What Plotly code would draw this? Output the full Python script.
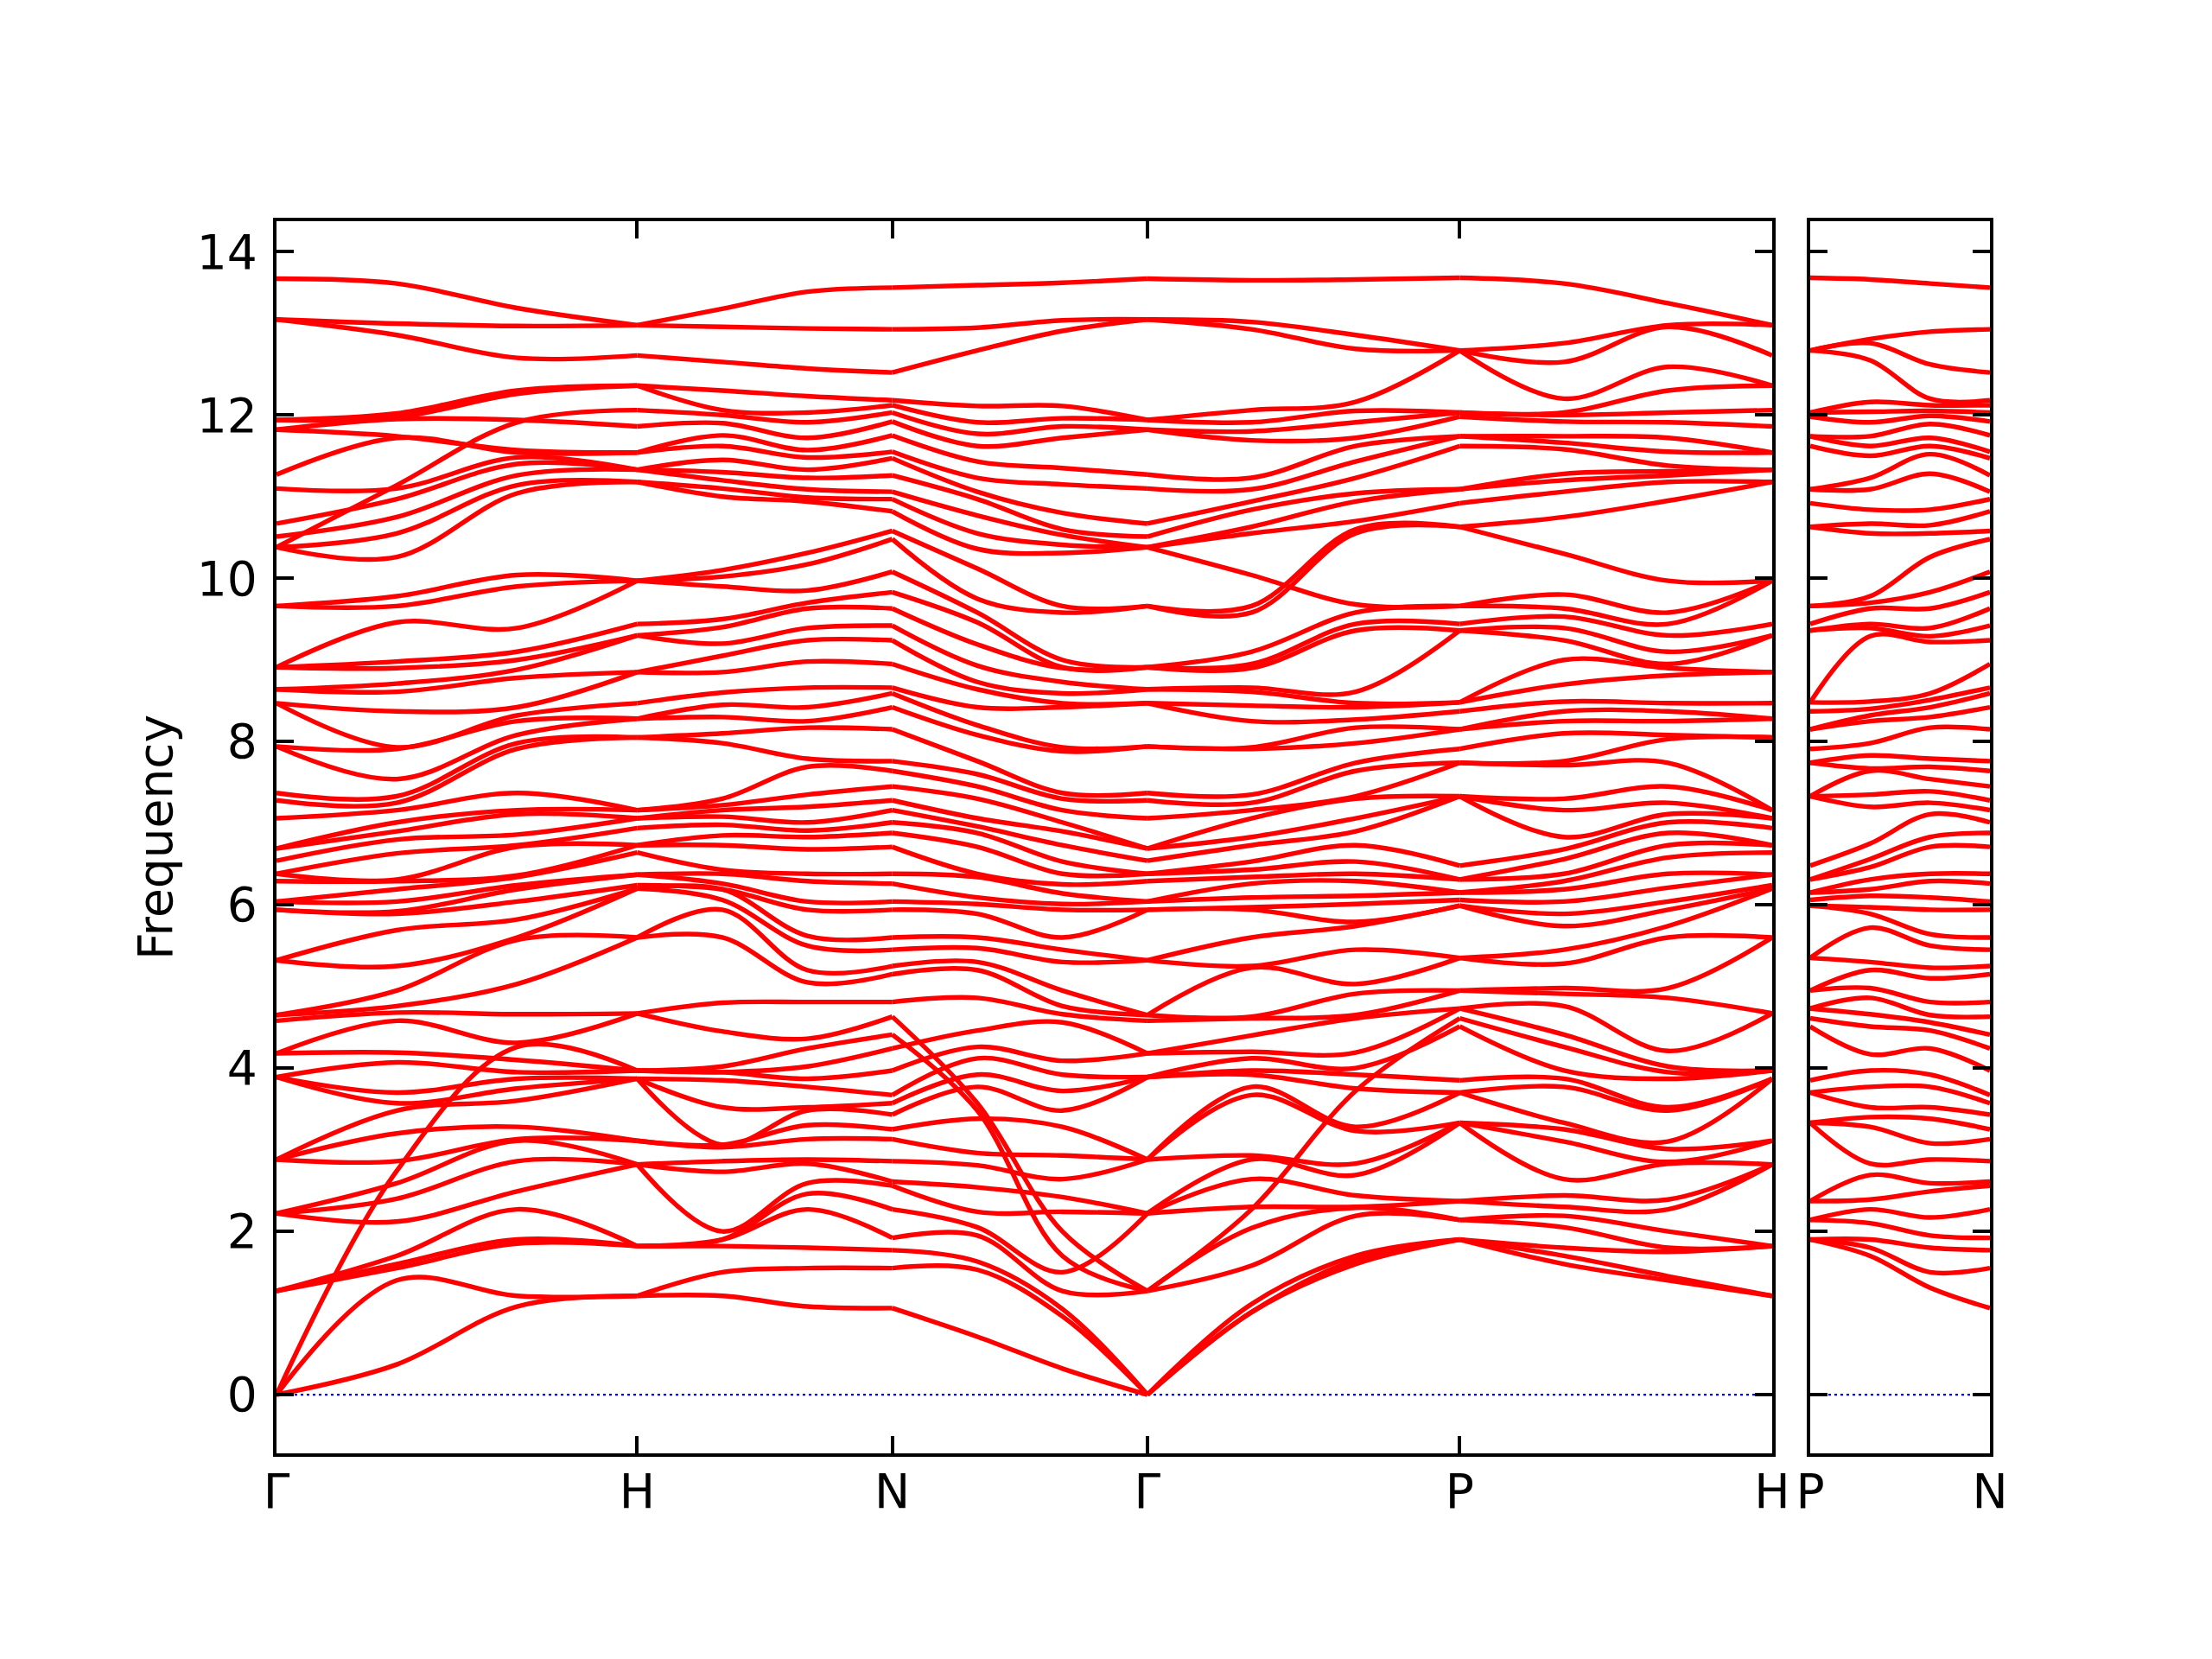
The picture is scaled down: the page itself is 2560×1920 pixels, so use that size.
import plotly.graph_objects as go

# ---------------- data (phonon frequencies) ----------------
# path segment lengths (reciprocal-space distance) for the main panel: G-H, H-N, N-G, G-P, P-H
seg_lengths = [1.0, 0.70711, 0.70711, 0.86603, 0.86603]
main_labels = ["Γ", "H", "N", "Γ", "P", "H"]
side_length = 0.5            # P-N
side_labels = ["P", "N"]
y_ticks = [0, 2, 4, 6, 8, 10, 12, 14]

# frequencies at high-symmetry points
G = [0.0, 0.0, 0.0, 1.27, 1.27, 1.27, 2.22, 2.22, 2.22, 2.88, 2.88, 2.88, 3.89, 3.89, 3.89,
     4.18, 4.18, 4.58, 4.65, 4.65, 5.32, 5.32, 5.94, 5.94, 6.04, 6.04, 6.29, 6.38, 6.38, 6.54,
     6.69, 6.69, 7.06, 7.28, 7.37, 7.94, 7.94, 8.47, 8.47, 8.64, 8.64, 8.91, 8.91, 8.91, 9.66,
     9.66, 10.38, 10.38, 10.38, 10.51, 10.67, 11.10, 11.27, 11.82, 11.82, 11.94, 11.94, 13.17, 13.17, 13.67]
H = [1.21, 1.21, 1.82, 1.82, 1.82, 2.82, 2.82, 2.82, 3.11, 3.11, 3.87, 3.87, 3.87, 3.97, 3.97,
     3.97, 4.67, 4.67, 5.60, 5.60, 6.20, 6.20, 6.24, 6.37, 6.37, 6.64, 6.73, 6.73, 6.94, 7.06,
     7.06, 7.16, 7.16, 8.05, 8.05, 8.28, 8.28, 8.47, 8.85, 8.85, 9.30, 9.30, 9.44, 9.97, 9.97,
     9.97, 11.18, 11.18, 11.33, 11.33, 11.33, 11.54, 11.54, 11.86, 12.06, 12.36, 12.36, 12.73, 13.10, 13.10]
N = [1.06, 1.55, 1.77, 1.92, 2.27, 2.56, 2.61, 2.86, 3.13, 3.25, 3.43, 3.57, 3.67, 3.97, 4.24,
     4.41, 4.63, 4.81, 5.15, 5.25, 5.45, 5.60, 5.94, 6.04, 6.26, 6.38, 6.71, 6.88, 7.01, 7.16,
     7.28, 7.45, 7.64, 7.76, 8.15, 8.42, 8.59, 8.66, 8.95, 9.24, 9.42, 9.63, 9.83, 10.08, 10.48,
     10.58, 10.82, 10.97, 11.06, 11.26, 11.47, 11.55, 11.75, 11.92, 12.03, 12.12, 12.18, 12.52, 13.05, 13.56]
P = [1.90, 1.90, 1.90, 2.14, 2.14, 2.37, 2.37, 3.33, 3.33, 3.33, 3.70, 3.70, 3.85, 4.51, 4.61,
     4.73, 4.73, 4.95, 4.95, 5.35, 5.35, 5.99, 5.99, 6.06, 6.15, 6.15, 6.31, 6.31, 6.48, 7.33,
     7.33, 7.33, 7.74, 7.74, 7.91, 8.15, 8.15, 8.37, 8.48, 8.48, 9.36, 9.36, 9.44, 9.66, 9.66,
     10.63, 10.63, 10.92, 11.09, 11.09, 11.62, 11.74, 11.74, 11.98, 12.03, 12.03, 12.79, 12.79, 12.79, 13.68]

# frequencies at 1/3 and 2/3 of each segment
GH_1 = [0.37, 1.40, 1.55, 1.60, 1.70, 2.12, 2.40, 2.59, 2.74, 2.86, 3.20, 3.48, 3.57, 3.70, 4.07,
        4.19, 4.58, 4.68, 4.76, 4.95, 5.25, 5.69, 5.89, 5.92, 6.04, 6.19, 6.29, 6.31, 6.63, 6.80,
        6.90, 7.01, 7.16, 7.25, 7.33, 7.54, 7.91, 7.93, 8.37, 8.61, 8.71, 8.90, 8.98, 9.46, 9.66,
        9.78, 10.26, 10.55, 10.75, 10.97, 11.10, 11.14, 11.72, 11.74, 11.95, 11.97, 12.02, 12.98, 13.12, 13.61]
GH_2 = [1.08, 1.21, 1.85, 1.90, 2.27, 2.49, 2.86, 3.11, 3.13, 3.28, 3.60, 3.75, 3.87, 3.95, 4.10,
        4.26, 4.31, 4.66, 5.03, 5.57, 5.60, 5.82, 6.04, 6.19, 6.24, 6.34, 6.36, 6.71, 6.73, 6.86,
        7.11, 7.16, 7.37, 7.91, 7.98, 8.08, 8.25, 8.32, 8.42, 8.78, 8.88, 9.00, 9.10, 9.39, 9.90,
        10.04, 11.04, 11.14, 11.26, 11.40, 11.48, 11.54, 11.57, 11.91, 11.94, 12.26, 12.30, 12.70, 13.09, 13.31]
HN_1 = [1.21, 1.50, 1.82, 1.90, 1.90, 2.00, 2.73, 2.86, 3.03, 3.06, 3.06, 3.52, 3.85, 3.95, 3.95,
        4.02, 4.45, 4.80, 5.60, 5.94, 6.06, 6.19, 6.19, 6.26, 6.38, 6.43, 6.73, 6.85, 6.98, 7.08,
        7.16, 7.22, 7.30, 7.98, 8.10, 8.30, 8.45, 8.60, 8.85, 9.05, 9.20, 9.40, 9.50, 9.90, 10.02,
        10.10, 11.00, 11.10, 11.20, 11.30, 11.45, 11.62, 11.75, 11.90, 12.00, 12.06, 12.30, 12.65, 13.08, 13.30]
HN_2 = [1.08, 1.55, 1.80, 2.27, 2.46, 2.59, 2.83, 2.88, 3.13, 3.30, 3.48, 3.52, 3.77, 3.87, 4.02,
        4.24, 4.36, 4.81, 5.05, 5.20, 5.50, 5.62, 5.94, 6.04, 6.29, 6.38, 6.68, 6.83, 6.91, 7.01,
        7.20, 7.35, 7.69, 7.79, 8.17, 8.25, 8.42, 8.66, 8.98, 9.24, 9.39, 9.63, 9.70, 9.85, 10.17,
        10.31, 10.94, 10.99, 11.09, 11.23, 11.33, 11.48, 11.57, 11.72, 11.91, 12.03, 12.23, 12.57, 13.06, 13.51]
NG_1 = [0.71, 1.53, 1.63, 1.95, 2.05, 2.24, 2.54, 2.81, 2.96, 3.38, 3.48, 3.57, 3.77, 3.92, 4.12,
        4.26, 4.46, 4.86, 5.20, 5.30, 5.47, 5.60, 5.89, 6.01, 6.09, 6.34, 6.38, 6.71, 6.88, 6.96,
        7.06, 7.30, 7.45, 7.60, 7.76, 8.08, 8.20, 8.42, 8.64, 8.73, 8.93, 9.19, 9.46, 9.58, 9.75,
        10.12, 10.36, 10.55, 10.77, 10.97, 11.06, 11.23, 11.43, 11.62, 11.77, 11.91, 12.11, 12.79, 13.07, 13.59]
NG_2 = [0.32, 0.96, 1.05, 1.27, 1.50, 1.70, 2.00, 2.24, 2.42, 2.64, 2.93, 3.28, 3.48, 3.72, 3.92,
        4.09, 4.56, 4.66, 4.76, 4.95, 5.30, 5.45, 5.60, 5.94, 6.01, 6.14, 6.25, 6.38, 6.53, 6.73,
        6.90, 7.01, 7.16, 7.30, 7.37, 7.88, 7.93, 8.42, 8.47, 8.59, 8.73, 8.90, 8.91, 9.00, 9.58,
        9.66, 10.31, 10.41, 10.53, 10.60, 10.80, 11.15, 11.35, 11.72, 11.86, 11.96, 12.11, 13.03, 13.16, 13.62]
GP_1 = [1.01, 1.01, 1.11, 1.58, 2.04, 2.27, 2.30, 2.64, 2.88, 2.93, 3.67, 3.77, 3.92, 3.97, 4.12,
        4.20, 4.40, 4.61, 4.63, 5.23, 5.25, 5.60, 5.94, 5.97, 6.09, 6.26, 6.34, 6.43, 6.53, 6.73,
        6.83, 7.06, 7.16, 7.25, 7.35, 7.91, 7.93, 8.25, 8.44, 8.61, 8.66, 8.90, 8.95, 9.10, 9.58,
        9.66, 10.38, 10.55, 10.63, 10.84, 10.94, 11.09, 11.23, 11.69, 11.80, 11.91, 12.06, 13.05, 13.14, 13.65]
GP_2 = [1.60, 1.65, 1.70, 2.19, 2.29, 2.30, 2.44, 2.69, 2.83, 3.23, 3.28, 3.72, 3.75, 3.92, 4.00,
        4.19, 4.61, 4.65, 4.91, 5.03, 5.45, 5.74, 5.79, 6.01, 6.11, 6.29, 6.38, 6.53, 6.73, 6.90,
        7.06, 7.30, 7.33, 7.64, 7.74, 7.98, 8.17, 8.27, 8.42, 8.47, 8.61, 9.36, 9.44, 9.58, 9.66,
        10.55, 10.60, 10.70, 10.94, 11.04, 11.23, 11.43, 11.62, 11.72, 11.91, 12.05, 12.16, 12.81, 12.98, 13.66]
PH_1 = [1.60, 1.70, 1.80, 2.05, 2.19, 2.30, 2.44, 2.64, 3.10, 3.25, 3.33, 3.77, 3.87, 3.97, 4.26,
        4.41, 4.76, 4.91, 4.98, 5.28, 5.45, 5.74, 5.89, 6.04, 6.19, 6.29, 6.38, 6.56, 6.68, 6.83,
        7.16, 7.30, 7.71, 7.76, 8.10, 8.25, 8.37, 8.49, 8.70, 9.00, 9.24, 9.39, 9.53, 9.63, 9.80,
        10.30, 10.75, 11.06, 11.20, 11.28, 11.58, 11.66, 11.74, 11.92, 12.00, 12.03, 12.20, 12.65, 12.88, 13.61]
PH_2 = [1.40, 1.45, 1.75, 1.80, 2.00, 2.27, 2.39, 2.83, 2.85, 3.01, 3.10, 3.48, 3.52, 3.87, 3.95,
        4.02, 4.21, 4.86, 4.98, 5.60, 5.74, 5.94, 6.04, 6.21, 6.38, 6.58, 6.73, 6.88, 7.01, 7.11,
        7.25, 7.45, 7.74, 8.03, 8.08, 8.25, 8.37, 8.47, 8.81, 8.90, 8.95, 9.10, 9.30, 9.44, 9.58,
        9.97, 10.95, 11.18, 11.26, 11.31, 11.38, 11.55, 11.72, 11.91, 12.03, 12.30, 12.59, 13.08, 13.10, 13.37]
PN_1 = [1.70, 1.80, 1.90, 2.10, 2.27, 2.39, 2.69, 2.83, 3.28, 3.40, 3.52, 3.77, 3.97, 4.17, 4.51,
        4.66, 4.86, 4.98, 5.20, 5.30, 5.72, 5.89, 5.97, 6.11, 6.19, 6.31, 6.46, 6.56, 6.75, 7.20,
        7.35, 7.64, 7.67, 7.83, 7.98, 8.25, 8.32, 8.40, 8.49, 9.29, 9.39, 9.44, 9.63, 9.70, 9.78,
        10.55, 10.67, 10.84, 11.09, 11.23, 11.50, 11.62, 11.74, 11.91, 12.04, 12.16, 12.67, 12.88, 12.93, 13.66]
PN_2 = [1.31, 1.50, 1.80, 1.95, 2.17, 2.49, 2.59, 2.88, 3.08, 3.38, 3.52, 3.77, 3.92, 4.24, 4.46,
        4.56, 4.65, 4.81, 5.10, 5.23, 5.50, 5.64, 5.94, 6.09, 6.29, 6.38, 6.71, 6.83, 7.11, 7.25,
        7.39, 7.54, 7.69, 7.79, 8.17, 8.30, 8.42, 8.51, 8.59, 9.22, 9.29, 9.39, 9.63, 9.83, 10.26,
        10.55, 10.65, 10.84, 11.28, 11.52, 11.62, 11.72, 11.89, 11.99, 12.05, 12.12, 12.20, 12.62, 13.02, 13.61]

# strongly dispersive branches that cross the others (start, 1/3, 2/3, end of segment)
cross_GH = [[0.0, 2.74, 4.26, 3.97], [10.38, 11.14, 11.91, 12.06]]
cross_HN = []
cross_NG = [[4.63, 3.57, 2.00, 1.27], [4.41, 3.48, 1.70, 1.27]]
cross_GP = [[1.27, 2.27, 3.72, 4.61], [10.38, 10.04, 9.68, 9.66]]
cross_PH = []

main_segments = [
    ((G, GH_1, GH_2, H), cross_GH),
    ((H, HN_1, HN_2, N), cross_HN),
    ((N, NG_1, NG_2, G), cross_NG),
    ((G, GP_1, GP_2, P), cross_GP),
    ((P, PH_1, PH_2, H), cross_PH),
]
side_segment = ((P, PN_1, PN_2, N), [])

# ---------------- figure ----------------
W, Hpx = 2560, 1920
RED = "#ff0000"
LW = 5.4
knot_frac = [0.0, 1 / 3, 2 / 3, 1.0]

# pixel frame of the panels (page body adds an 8 px offset)
OFF = 8
ML, MT = 320 - OFF, 256 - OFF
plot_w, plot_h = 2303 - 320, 1682 - 256
MR, MB = W - ML - plot_w, Hpx - MT - plot_h
main_right = (2051 - 320) / plot_w
side_left = (2095 - 320) / plot_w


def band_trace(x0, length, knots, crossing, xa, ya):
    cols = [list(k) for k in knots]
    # take the crossing branches out of the frequency-ordered columns
    for br in crossing:
        for j in range(4):
            c = cols[j]
            idx = min(range(len(c)), key=lambda t: abs(c[t] - br[j]))
            c.pop(idx)
    cols = [sorted(c) for c in cols]
    nb = min(len(c) for c in cols)
    curves = [[cols[j][i] for j in range(4)] for i in range(nb)] + [list(b) for b in crossing]
    xs, ys = [], []
    for cv in curves:
        for j in range(4):
            xs.append(x0 + knot_frac[j] * length)
            ys.append(cv[j])
        xs.append(None)
        ys.append(None)
    return go.Scatter(x=xs, y=ys, mode="lines",
                      line=dict(color=RED, width=LW, shape="spline", smoothing=1.0),
                      xaxis=xa, yaxis=ya, hoverinfo="skip", showlegend=False)


fig = go.Figure()

tick_pos = [0.0]
for L in seg_lengths:
    tick_pos.append(tick_pos[-1] + L)
x_end = tick_pos[-1]

# zero reference lines
fig.add_trace(go.Scatter(x=[0, x_end], y=[0, 0], mode="lines",
                         line=dict(color="blue", width=2.2, dash="3px,4px"),
                         xaxis="x", yaxis="y", hoverinfo="skip", showlegend=False))
fig.add_trace(go.Scatter(x=[0, side_length], y=[0, 0], mode="lines",
                         line=dict(color="blue", width=2.2, dash="3px,4px"),
                         xaxis="x2", yaxis="y2", hoverinfo="skip", showlegend=False))

for k, (seg, cr) in enumerate(main_segments):
    fig.add_trace(band_trace(tick_pos[k], seg_lengths[k], seg, cr, "x", "y"))
fig.add_trace(band_trace(0.0, side_length, side_segment[0], side_segment[1], "x2", "y2"))

y_range = [-0.719, 14.374]

common_axis = dict(showline=True, linewidth=4.4, linecolor="black", mirror="ticks",
                   ticks="inside", ticklen=20, tickwidth=4, tickcolor="black",
                   showgrid=False, zeroline=False, automargin=False)

fig.update_layout(
    width=W, height=Hpx, autosize=False,
    margin=dict(l=ML, r=MR, t=MT, b=MB, pad=0),
    paper_bgcolor="white", plot_bgcolor="white",
    showlegend=False,
    font=dict(family="DejaVu Sans", size=55, color="black"),
    xaxis=dict(domain=[0, main_right], range=[0, x_end], tickvals=tick_pos,
               ticktext=main_labels, anchor="y", ticklabelstandoff=-7, **common_axis),
    yaxis=dict(domain=[0, 1], range=y_range, tickvals=y_ticks, anchor="x",
               ticklabelstandoff=7,
               title=dict(text="Frequency", standoff=12, font=dict(size=55)),
               **common_axis),
    xaxis2=dict(domain=[side_left, 1], range=[0, side_length], tickvals=[0, side_length],
                ticktext=side_labels, anchor="y2", ticklabelstandoff=-7, **common_axis),
    yaxis2=dict(domain=[0, 1], range=y_range, tickvals=y_ticks, anchor="x2",
                showticklabels=False, **common_axis),
)

fig.write_html("out.html")
